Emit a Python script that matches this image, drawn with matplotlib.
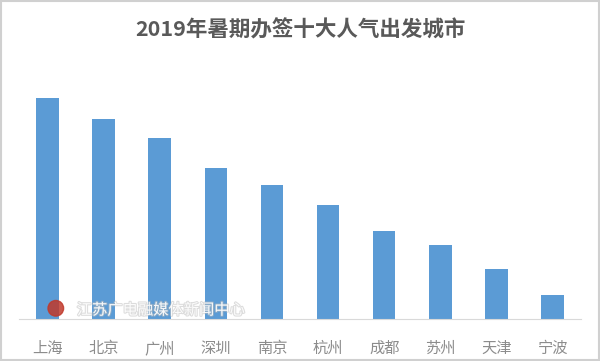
import matplotlib.pyplot as plt
import matplotlib.patches as mpatches
import matplotlib.patheffects as pe

plt.rcParams['font.family'] = ['Noto Sans CJK SC', 'DejaVu Sans']

cities = ['上海', '北京', '广州', '深圳', '南京', '杭州', '成都', '苏州', '天津', '宁波']
values = [221, 200, 181, 151, 134, 114, 88, 74, 50, 24]  # relative heights

fig = plt.figure(figsize=(6, 3.61), dpi=100)
ax = fig.add_axes([0.032, 0.116, 0.936, 0.718])

ax.bar(range(len(cities)), values, width=0.4, color='#5B9BD5', zorder=2)
ax.set_xlim(-0.5, len(cities) - 0.5)
ax.set_ylim(0, 259)
ax.set_xticks(range(len(cities)))
ax.set_xticklabels(cities, fontsize=11, color='#8c8c8c')
ax.tick_params(axis='x', length=0, pad=15)
ax.set_yticks([])
for s in ['top', 'right', 'left']:
    ax.spines[s].set_visible(False)
ax.spines['bottom'].set_color('#d9d9d9')

fig.text(0.5, 0.917, '2019年暑期办签十大人气出发城市', ha='center', va='center',
         fontsize=15.5, fontweight='bold', color='#595959')

# watermark
fig.text(0.128, 0.141, '江苏广电融媒体新闻中心', ha='left', va='center',
         fontsize=11, color='white', alpha=0.9, zorder=5,
         path_effects=[pe.withStroke(linewidth=1.5, foreground='#bbbbbb', alpha=0.5)])
fig.patches.append(mpatches.Ellipse((0.093, 0.146), 0.026, 0.026 * 600 / 361,
                                    transform=fig.transFigure,
                                    color='#c0392b', alpha=0.85, zorder=5))

# light border round the picture
fig.patches.append(mpatches.Rectangle((0.002, 0.003), 0.996, 0.994, transform=fig.transFigure,
                                      fill=False, edgecolor='#d0d0d0', linewidth=1.5))

fig.savefig('out.png', dpi=100)
